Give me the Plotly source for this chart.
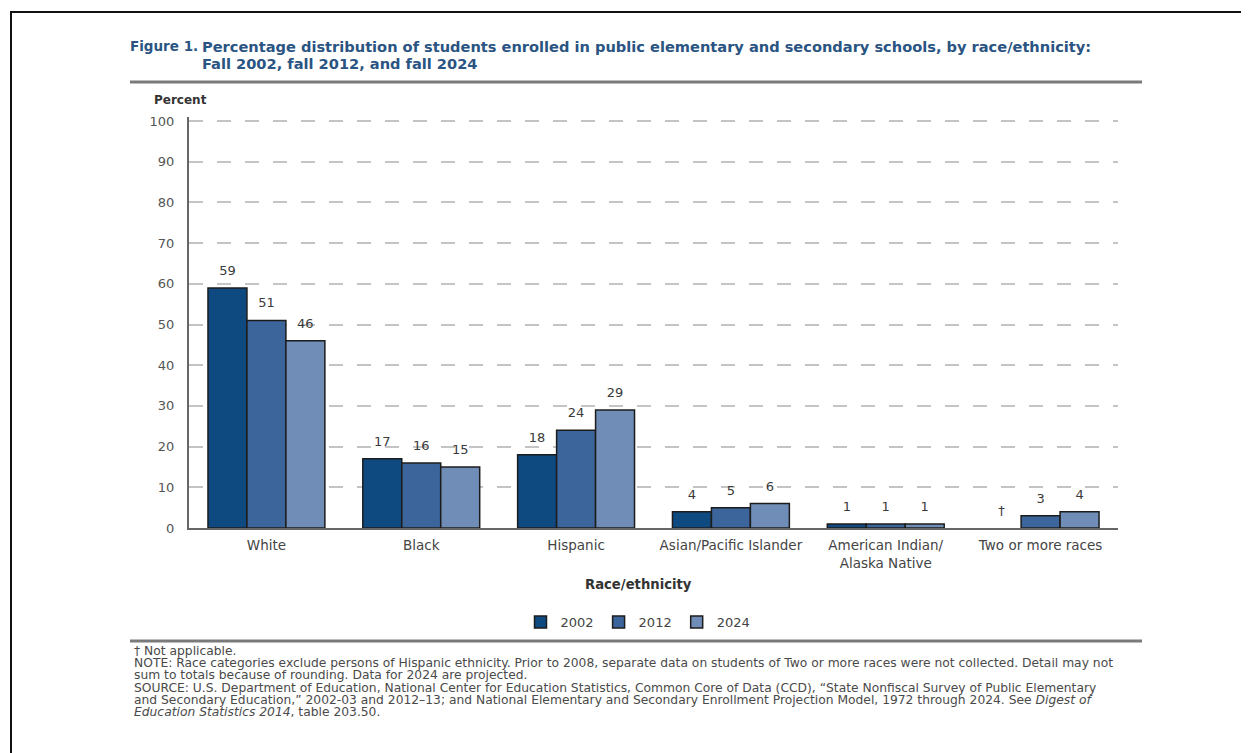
import plotly.graph_objects as go

# ---------------- data ----------------
categories = ["White", "Black", "Hispanic", "Asian/Pacific Islander",
              "American Indian/<br>Alaska Native", "Two or more races"]
years = ["2002", "2012", "2024"]
values_2002 = [59, 17, 18, 4, 1, None]
values_2012 = [51, 16, 24, 5, 1, 3]
values_2024 = [46, 15, 29, 6, 1, 4]
y_ticks = [0, 10, 20, 30, 40, 50, 60, 70, 80, 90, 100]
not_applicable_mark = "†"

series = [values_2002, values_2012, values_2024]
colors = ["#0e4a80", "#3c659c", "#6f8db7"]

OFF = 8                      # default page margin of the html body
W, H = 1249 - OFF, 753 - OFF
Y_TOP = 101                  # a bit above 100 so the 100 grid line is drawn
L, R = 189 - OFF, 1118 - OFF
B = 528 - OFF
T = B - (528 - 121) * Y_TOP / 100.0


def px(x):
    return (x - OFF - L) / (R - L)


def py(y):
    return (B - (y - OFF)) / (B - T)


FONT = "DejaVu Sans"
GAP = 0.245

fig = go.Figure()
for yr, vals, col in zip(years, series, colors):
    fig.add_trace(go.Bar(
        name=yr, x=categories, y=vals, offsetgroup=yr,
        marker=dict(color=col, line=dict(color="#1c1c1c", width=1.5)),
        hoverinfo="skip",
    ))
# value labels above bars (grouped the same way as the bars)
for yr, vals in zip(years, series):
    fig.add_trace(go.Scatter(
        x=categories, y=[v if v is not None else 0 for v in vals],
        text=[str(v) if v is not None else not_applicable_mark for v in vals],
        mode="markers+text", textposition="top center", offsetgroup=yr,
        marker=dict(size=14, color="rgba(0,0,0,0)"),
        textfont=dict(family=FONT, size=13, color="#3a3a3a"),
        cliponaxis=False, showlegend=False, hoverinfo="skip",
    ))

fig.update_layout(
    width=W, height=H,
    margin=dict(l=L, r=W - R, t=T, b=H - B, pad=0),
    paper_bgcolor="white", plot_bgcolor="white",
    barmode="group", bargap=GAP, bargroupgap=0,
    scattermode="group", scattergap=GAP,
    font=dict(family=FONT, size=12, color="#444444"),
    showlegend=True,
    legend=dict(orientation="h", x=px(638), xanchor="center",
                y=py(622), yanchor="middle",
                font=dict(family=FONT, size=13, color="#444444"),
                itemwidth=30, traceorder="normal"),
)

fig.update_yaxes(
    range=[0, Y_TOP], tickvals=y_ticks, showgrid=True,
    gridcolor="#c4c4c4", gridwidth=2, griddash="14px,14px",
    showline=True, linecolor="#666666", linewidth=2,
    zeroline=False, ticks="", ticklabelstandoff=10,
    tickfont=dict(family=FONT, size=13, color="#555555"),
    fixedrange=True,
)
fig.update_xaxes(
    showline=True, linecolor="#666666", linewidth=2,
    showgrid=False, ticks="outside", ticklen=4, tickcolor="rgba(0,0,0,0)",
    tickfont=dict(family=FONT, size=13.5, color="#444444"),
    fixedrange=True,
)

ann = []
title_color = "#2a5482"


def note(text, x, y, size, color, bold=False, anchor="left"):
    ann.append(dict(text=f"<b>{text}</b>" if bold else text,
                    x=px(x), y=py(y), xref="paper", yref="paper",
                    xanchor=anchor, yanchor="middle", showarrow=False,
                    align="left", font=dict(family=FONT, size=size, color=color)))


note("Figure 1.", 128, 46, 13.5, title_color, bold=True)
note("Percentage distribution of students enrolled in public elementary and secondary schools, by race/ethnicity:",
     200, 46, 14.6, title_color, bold=True)
note("Fall 2002, fall 2012, and fall 2024", 200, 63, 14.6, title_color, bold=True)
note("Percent", 152, 100, 12, "#333333", bold=True)
note("Race/ethnicity", 638, 585, 13.2, "#333333", bold=True, anchor="center")

note_lines = [
    ("† Not applicable.", 651),
    ("NOTE: Race categories exclude persons of Hispanic ethnicity. Prior to 2008, separate data on students of Two or more races were not collected. Detail may not", 663),
    ("sum to totals because of rounding. Data for 2024 are projected.", 675),
    ("SOURCE: U.S. Department of Education, National Center for Education Statistics, Common Core of Data (CCD), “State Nonfiscal Survey of Public Elementary", 688),
    ("and Secondary Education,” 2002-03 and 2012–13; and National Elementary and Secondary Enrollment Projection Model, 1972 through 2024. See <i>Digest of</i>", 700),
    ("<i>Education Statistics 2014</i>, table 203.50.", 712),
]
for txt, yy in note_lines:
    note(txt, 132, yy, 12.3, "#4a4a4a")

fig.update_layout(annotations=ann)

shapes = []
# outer frame
shapes.append(dict(type="rect", xref="paper", yref="paper",
                   x0=px(11), x1=px(1262), y0=py(12), y1=py(770),
                   line=dict(color="#111111", width=2), fillcolor="rgba(0,0,0,0)"))
# rule below title
shapes.append(dict(type="line", xref="paper", yref="paper",
                   x0=px(130), x1=px(1142), y0=py(82), y1=py(82),
                   line=dict(color="#7a7a7a", width=3)))
# rule below legend
shapes.append(dict(type="line", xref="paper", yref="paper",
                   x0=px(130), x1=px(1142), y0=py(641), y1=py(641),
                   line=dict(color="#7a7a7a", width=3)))
fig.update_layout(shapes=shapes)

fig.write_html("out.html")
